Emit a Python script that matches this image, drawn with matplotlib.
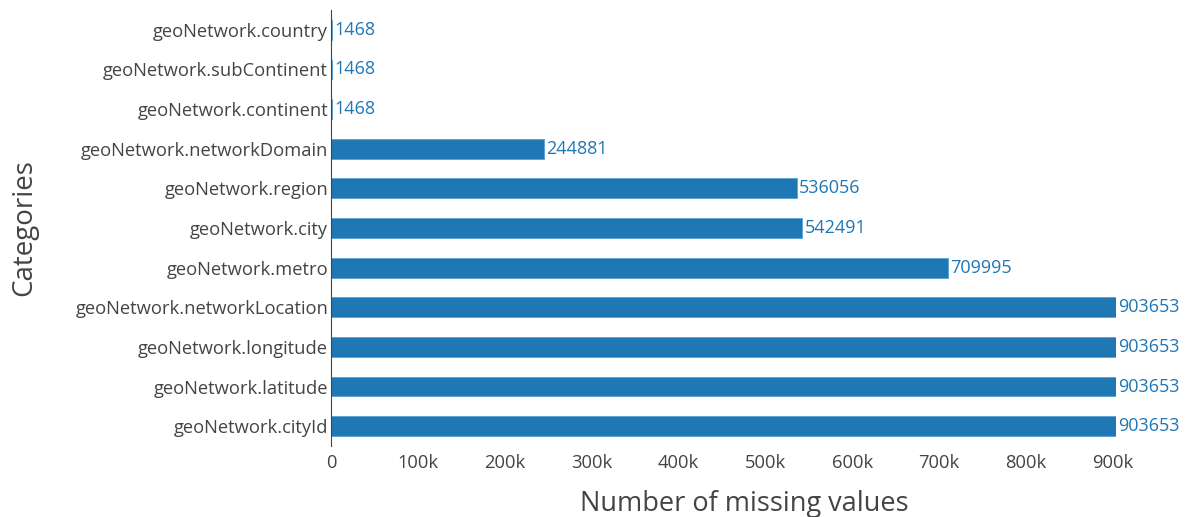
import matplotlib
matplotlib.use("Agg")
import matplotlib.pyplot as plt

categories = [
    "geoNetwork.country", "geoNetwork.subContinent", "geoNetwork.continent",
    "geoNetwork.networkDomain", "geoNetwork.region", "geoNetwork.city",
    "geoNetwork.metro", "geoNetwork.networkLocation", "geoNetwork.longitude",
    "geoNetwork.latitude", "geoNetwork.cityId",
]
missing = [1468, 1468, 1468, 244881, 536056, 542491, 709995,
           903653, 903653, 903653, 903653]
xticks = [0, 100000, 200000, 300000, 400000, 500000, 600000, 700000, 800000, 900000]
xticklabels = ["0", "100k", "200k", "300k", "400k", "500k", "600k", "700k", "800k", "900k"]

plt.rcParams['font.family'] = ['Open Sans', 'DejaVu Sans']
W, H = 1189, 517
fig = plt.figure(figsize=(W / 100, H / 100), dpi=100)
ax = fig.add_axes([331 / W, 1 - 446 / H, (1116 - 331) / W, (446 - 10) / H])

blue = "#1f77b4"
ypos = list(range(len(categories)))
ax.barh(ypos, missing, height=0.5, color=blue, edgecolor="#5aa0d6", linewidth=0.6)
for y, v in zip(ypos, missing):
    ax.text(v + 3000, y, str(v), va="center", ha="left", color=blue, fontsize=13)

ax.set_ylim(len(categories) - 0.5, -0.5)
ax.set_xlim(0, 903653)
ax.set_yticks(ypos)
ax.set_yticklabels(categories, fontsize=13.2, color="#444444")
ax.set_xticks(xticks)
ax.set_xticklabels(xticklabels, fontsize=13.2, color="#444444")
ax.tick_params(axis="both", length=0)
ax.tick_params(axis="y", pad=2)
ax.tick_params(axis="x", pad=6)

for s in ["top", "right", "bottom"]:
    ax.spines[s].set_visible(False)
ax.spines["left"].set_color("#444444")
ax.spines["left"].set_linewidth(0.8)

ax.set_xlabel("Number of missing values", fontsize=19.5, color="#444444", labelpad=13)
ax.xaxis.label.set_x(0.526)
ax.set_ylabel("Categories", fontsize=20, color="#444444", labelpad=27)

fig.savefig("out.png", dpi=100)
